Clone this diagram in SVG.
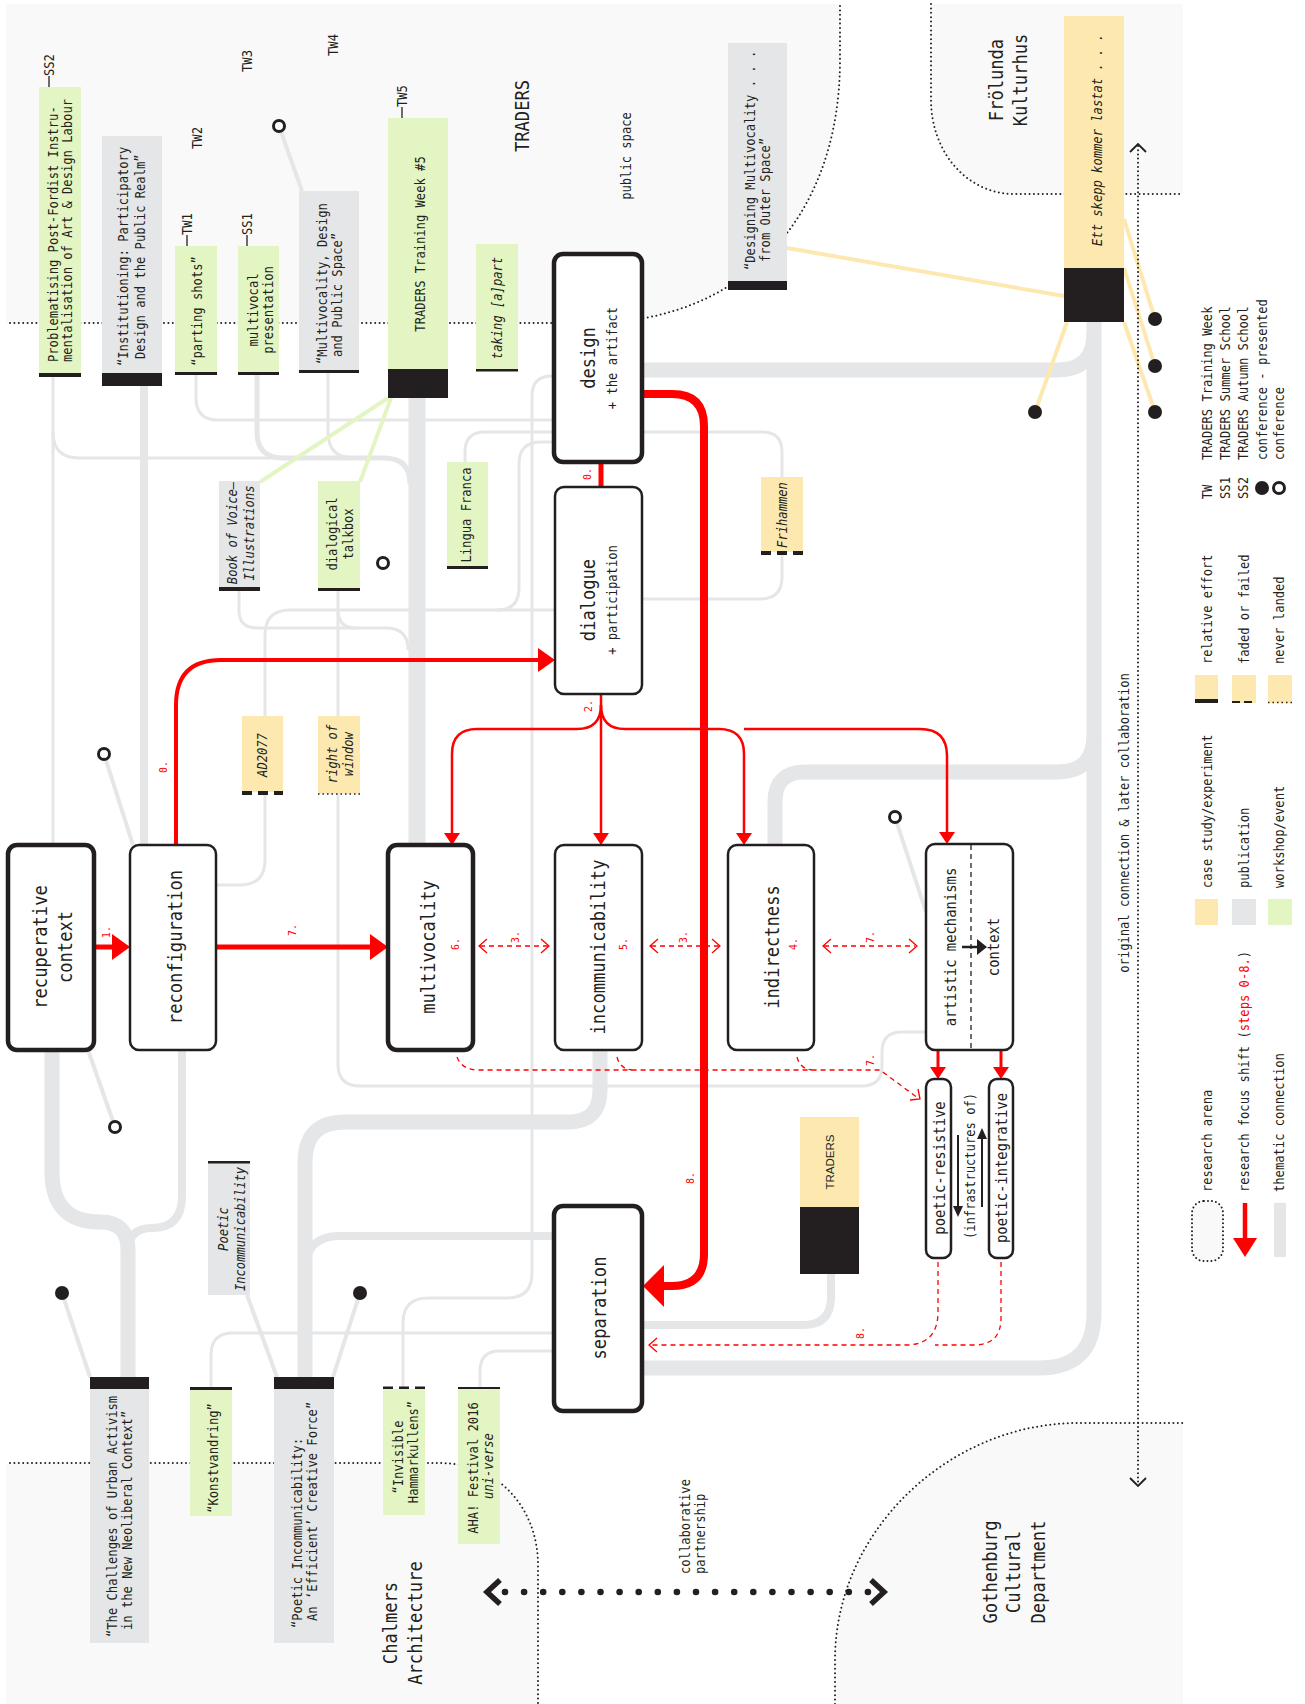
<svg xmlns="http://www.w3.org/2000/svg" width="1305" height="1704" viewBox="0 0 1305 1704">
<style>
text{font-family:"DejaVu Sans Mono","Liberation Mono",monospace;font-size:13.5px;fill:#231f20;text-anchor:middle;dominant-baseline:central}
.a{text-anchor:start}
.L{font-size:19px}
.M{font-size:15.4px}
.i{font-style:italic}
.n{font-size:11px;fill:#ff0000}
.red{fill:#ff0000}
.sans{font-family:"Liberation Sans",Arial,sans-serif;font-size:11.5px}
.rg{fill:#f9f9f9}
.bd{fill:none;stroke:#231f20;stroke-width:2;stroke-linecap:round;stroke-dasharray:0 4.4}
.gy{fill:#e5e6e8}.gr{fill:#e3f5c2}.yw{fill:#fde9b0}.bk{fill:#231f20}
.th{fill:none;stroke:#e5e6e8}
.w17{stroke-width:17}.w15{stroke-width:15}.w8{stroke-width:8}.w5{stroke-width:5}.w4{stroke-width:4}.w3{stroke-width:3}
.gl{stroke:#e3f5c2;stroke-width:4;fill:none}
.yl{stroke:#fde9b0;stroke-width:4;fill:none}
.rl{fill:none;stroke:#ff0000}
.rh{fill:#ff0000}
.rd{fill:none;stroke:#ff0000;stroke-width:1.3;stroke-dasharray:5 4}
.rc{fill:none;stroke:#ff0000;stroke-width:1.3}
.nb{fill:#fff;stroke:#231f20;stroke-width:2.5}
.nk{fill:#fff;stroke:#231f20;stroke-width:4.5}
.dash{stroke:#231f20;stroke-width:4;stroke-dasharray:10 6}
.dotb{stroke:#231f20;stroke-width:1.5;stroke-dasharray:1.5 3}
.dotc{fill:#231f20}
.opc{fill:#fff;stroke:#231f20;stroke-width:3}
.tk{stroke:#231f20;stroke-width:1.3}
</style>

<!-- research arenas -->
<g id="arenas">
  <path class="rg" d="M6 4 H840 V60 C840 220 740 323 590 323 H6 Z"/>
  <path class="bd" d="M10 323 H590 C740 323 840 220 840 60 V4"/>
  <path class="rg" d="M931 4 V100 C931 150 965 194 1015 194 H1183 V4 Z"/>
  <path class="bd" d="M931 4 V100 C931 150 965 194 1015 194 H1183"/>
  <path class="rg" d="M6 1463 H440 C500 1463 538 1510 538 1565 V1704 H6 Z"/>
  <path class="bd" d="M10 1463 H440 C500 1463 538 1510 538 1565 V1704"/>
  <path class="rg" d="M835 1704 V1660 C835 1530 950 1423 1078 1423 H1183 V1704 Z"/>
  <path class="bd" d="M835 1704 V1660 C835 1530 950 1423 1078 1423 H1183"/>
  <text class="L" transform="matrix(0 -.9 1 0 522 116)">TRADERS</text>
  <text transform="matrix(0 -.9 1 0 626 156)">public space</text>
  <text class="L" transform="matrix(0 -.9 1 0 996 80)">Frölunda</text>
  <text class="L" transform="matrix(0 -.9 1 0 1020 80)">Kulturhus</text>
  <text class="L" transform="matrix(0 -.9 1 0 390 1623)">Chalmers</text>
  <text class="L" transform="matrix(0 -.9 1 0 415 1623)">Architecture</text>
  <text class="L" transform="matrix(0 -.9 1 0 990 1572)">Gothenburg</text>
  <text class="L" transform="matrix(0 -.9 1 0 1013 1572)">Cultural</text>
  <text class="L" transform="matrix(0 -.9 1 0 1038 1572)">Department</text>
</g>

<g id="connectors">
  <!-- thematic connections -->
  <path class="th w15" d="M1094 322 V1313 Q1094 1368 1039 1368 H642"/>
  <path class="th w15" d="M642 370 H1057 Q1094 370 1094 333"/>
  <path class="th w15" d="M775 844 V802 Q775 772 805 772 H1057 Q1094 772 1094 735"/>
  <path class="th w17" d="M417 398 V845"/>
  <path class="th w15" d="M600 1050 V1090 Q600 1122 568 1122 H345 Q305 1122 305 1162 V1377"/>
  <path class="th w8" d="M554 1236 H340 Q305 1236 305 1271"/>
  <path class="th w15" d="M52 1050 V1172 Q52 1222 100 1222 Q128 1222 128 1250 V1377"/>
  <path class="th w8" d="M182 1050 V1196 Q182 1228 152 1228 Q128 1228 128 1252"/>
  <path class="th w8" d="M831 1274 V1297 Q831 1325 803 1325 H642"/>
  <path class="th w8" d="M144 386 V845"/>
  <path class="th w5" d="M257 375 V432 Q257 458 283 458 H384 Q410 458 410 484"/>
  <path class="th w3" d="M328 373 V432 Q328 458 354 458"/>
  <path class="th w3" d="M53 377 V845"/>
  <path class="th w3" d="M53 432 Q53 458 79 458 H283"/>
  <path class="th w3" d="M196 375 V398 Q196 420 218 420 H554"/>
  <path class="th w3" d="M465 462 V452 Q465 432 485 432 H762 Q782 432 782 452 V477"/>
  <path class="th w3" d="M782 554 V577 Q782 599 760 599 H642"/>
  <path class="th w3" d="M554 442 H541 Q519 442 519 464 V588 Q519 610 497 610"/>
  <path class="th w3" d="M555 610 H290 Q265 610 265 635 V860 Q265 885 240 885 H216"/>
  <path class="th w3" d="M239 591 V610 Q239 628 257 628 H386 Q408 628 408 650"/>
  <path class="th w3" d="M338 591 V1064 Q338 1086 360 1086 H862 Q882 1086 882 1066 V1052 Q882 1032 902 1032 H926"/>
  <path class="th w3" d="M338 610 Q338 628 356 628"/>
  <path class="th w3" d="M554 376 H552 Q532 376 532 396 V1273 Q532 1298 507 1298 H428 Q403 1298 403 1323 V1387"/>
  <path class="th w3" d="M211 1387 V1355 Q211 1333 233 1333 H554"/>
  <path class="th w3" d="M480 1387 V1371 Q480 1351 500 1351 H554"/>
  <path class="th w4" d="M247 1295 L277 1377"/>
  <path class="th w4" d="M104 754 L133 845"/>
  <path class="th w4" d="M88 1050 L115 1127"/>
  <path class="th w4" d="M279 126 L302 191"/>
  <path class="th w4" d="M895 817 L926 912"/>
  <path class="th w4" d="M62 1293 L90 1377"/>
  <path class="th w4" d="M360 1293 L333 1377"/>
  <!-- workshop links -->
  <path class="gl" d="M388 398 L260 482"/>
  <path class="gl" d="M391 398 L360 482"/>
  <!-- case study links -->
  <path class="yl" d="M1064 296 L787 248"/>
  <path class="yl" d="M1067 322 L1035 412"/>
  <path class="yl" d="M1124 219 L1155 319"/>
  <path class="yl" d="M1124 268 L1155 366"/>
  <path class="yl" d="M1124 322 L1155 412"/>
  <!-- research focus shift -->
  <path class="rl" stroke-width="5" d="M94 947 H114"/>
  <polygon class="rh" points="112,934 130,947 112,960"/>
  <path class="rl" stroke-width="5" d="M216 947 H372"/>
  <polygon class="rh" points="370,934 388,947 370,960"/>
  <path class="rl" stroke-width="4" d="M176 845 V705 Q176 660 221 660 H540"/>
  <polygon class="rh" points="538,648 555,660 538,672"/>
  <path class="rl" stroke-width="5" d="M601 462 V487"/>
  <path class="rl" stroke-width="8" d="M642 394 H672 Q704 394 704 426 V1254 Q704 1286 672 1286 H662"/>
  <polygon class="rh" points="664,1265 643,1286 664,1307"/>
  <path class="rl" stroke-width="2.5" d="M601 694 V835"/>
  <polygon class="rh" points="593,833 601,845 609,833"/>
  <path class="rl" stroke-width="2.5" d="M601 705 Q601 729 577 729 H477 Q452 729 452 754 V835"/>
  <polygon class="rh" points="444,833 452,845 460,833"/>
  <path class="rl" stroke-width="2.5" d="M601 705 Q601 729 625 729 H719 Q744 729 744 754 V835"/>
  <polygon class="rh" points="736,833 744,845 752,833"/>
  <path class="rl" stroke-width="2.5" d="M744 729 H920 Q947 729 947 756 V834"/>
  <polygon class="rh" points="939,832 947,844 955,832"/>
  <path class="rl" stroke-width="3" d="M938 1050 V1069"/>
  <polygon class="rh" points="930,1067 938,1079 946,1067"/>
  <path class="rl" stroke-width="3" d="M1001 1050 V1069"/>
  <polygon class="rh" points="993,1067 1001,1079 1009,1067"/>
  <!-- dashed relations -->
  <path class="rd" d="M480 946 H548"/>
  <polyline class="rc" points="487,939 479,946 487,953"/>
  <polyline class="rc" points="541,939 549,946 541,953"/>
  <path class="rd" d="M651 946 H719"/>
  <polyline class="rc" points="658,939 650,946 658,953"/>
  <polyline class="rc" points="712,939 720,946 712,953"/>
  <path class="rd" d="M824 946 H915"/>
  <polyline class="rc" points="831,939 823,946 831,953"/>
  <polyline class="rc" points="909,939 917,946 909,953"/>
  <path class="rd" d="M457 1057 Q462 1070 478 1070 H880 L918 1098"/>
  <path class="rd" d="M617 1057 Q620 1069 632 1070"/>
  <path class="rd" d="M797 1057 Q800 1069 812 1070"/>
  <polyline class="rc" points="910,1100 920,1099 918,1089"/>
  <path class="rd" d="M938 1262 V1312 Q938 1345 905 1345 H650"/>
  <path class="rd" d="M1001 1262 V1318 Q1001 1345 974 1345 H935"/>
  <polyline class="rc" points="657,1338 649,1345 657,1352"/>
  <!-- step numbers -->
  <text class="n" transform="matrix(0 -.9 1 0 106 932)">1.</text>
  <text class="n" transform="matrix(0 -.9 1 0 292 930)">7.</text>
  <text class="n" transform="matrix(0 -.9 1 0 163 767)">0.</text>
  <text class="n" transform="matrix(0 -.9 1 0 587 474)">0.</text>
  <text class="n" transform="matrix(0 -.9 1 0 588 706)">2.</text>
  <text class="n" transform="matrix(0 -.9 1 0 515 937)">3.</text>
  <text class="n" transform="matrix(0 -.9 1 0 683 937)">3.</text>
  <text class="n" transform="matrix(0 -.9 1 0 870 937)">7.</text>
  <text class="n" transform="matrix(0 -.9 1 0 870 1060)">7.</text>
  <text class="n" transform="matrix(0 -.9 1 0 690 1178)">8.</text>
  <text class="n" transform="matrix(0 -.9 1 0 860 1333)">8.</text>
  <!-- collaboration lines -->
  <path fill="none" stroke="#231f20" stroke-width="2" stroke-linecap="round" stroke-dasharray="0 4.2" d="M1138 146 V1484"/>
  <polyline fill="none" stroke="#231f20" stroke-width="1.8" points="1130,152 1138,144 1146,152"/>
  <polyline fill="none" stroke="#231f20" stroke-width="1.8" points="1130,1478 1138,1486 1146,1478"/>
  <text transform="matrix(0 -.9 1 0 1124 823)">original connection &amp; later collaboration</text>
  <path fill="none" stroke="#231f20" stroke-width="6.6" stroke-linecap="round" stroke-dasharray="0 19.1" d="M505 1592 H870"/>
  <polyline fill="none" stroke="#231f20" stroke-width="5.5" points="500,1580 487,1592 500,1604"/>
  <polyline fill="none" stroke="#231f20" stroke-width="5.5" points="871,1580 884,1592 871,1604"/>
  <text class="a" transform="matrix(0 -.9 1 0 685 1574)">collaborative</text>
  <text class="a" transform="matrix(0 -.9 1 0 700 1574)">partnership</text>
</g>

<!-- conference dots -->
<g id="conferences">
  <circle class="opc" cx="279" cy="126" r="5.5"/>
  <circle class="opc" cx="104" cy="754" r="5.5"/>
  <circle class="opc" cx="115" cy="1127" r="5.5"/>
  <circle class="opc" cx="383" cy="563" r="5.5"/>
  <circle class="opc" cx="895" cy="817" r="5.5"/>
  <circle class="dotc" cx="62" cy="1293" r="7"/>
  <circle class="dotc" cx="360" cy="1293" r="7"/>
  <circle class="dotc" cx="1035" cy="412" r="7"/>
  <circle class="dotc" cx="1155" cy="319" r="7"/>
  <circle class="dotc" cx="1155" cy="366" r="7"/>
  <circle class="dotc" cx="1155" cy="412" r="7"/>
</g>

<!-- top labels -->
<g id="event-labels">
  <line class="tk" x1="49" y1="87" x2="49" y2="76"/>
  <text class="a" transform="matrix(0 -.9 1 0 49 76)">SS2</text>
  <text transform="matrix(0 -.9 1 0 197 138)">TW2</text>
  <text transform="matrix(0 -.9 1 0 247 61)">TW3</text>
  <text transform="matrix(0 -.9 1 0 333 45)">TW4</text>
  <line class="tk" x1="187" y1="246" x2="187" y2="235"/>
  <text class="a" transform="matrix(0 -.9 1 0 187 235)">TW1</text>
  <line class="tk" x1="247" y1="246" x2="247" y2="235"/>
  <text class="a" transform="matrix(0 -.9 1 0 247 235)">SS1</text>
  <line class="tk" x1="402" y1="118" x2="402" y2="107"/>
  <text class="a" transform="matrix(0 -.9 1 0 402 107)">TW5</text>
</g>

<g id="problematising">
  <rect class="gr" x="39" y="87" width="42" height="286"/>
  <rect class="bk" x="39" y="373" width="42" height="4"/>
  <text class="a" transform="matrix(0 -.9 1 0 53 362)">Problematising Post-Fordist Instru-</text>
  <text class="a" transform="matrix(0 -.9 1 0 67 362)">mentalisation of Art &amp; Design Labour</text>
</g>
<g id="institutioning">
  <rect class="gy" x="102" y="136" width="60" height="237"/>
  <rect class="bk" x="102" y="373" width="60" height="13"/>
  <text class="a" transform="matrix(0 -.9 1 0 123 366)">“Institutioning: Participatory</text>
  <text class="a" transform="matrix(0 -.9 1 0 140 359)">Design and the Public Realm”</text>
</g>
<g id="parting-shots">
  <rect class="gr" x="175" y="246" width="42" height="126"/>
  <rect class="bk" x="175" y="372" width="42" height="3"/>
  <text transform="matrix(0 -.9 1 0 197 311)">“parting shots”</text>
</g>
<g id="multivocal-presentation">
  <rect class="gr" x="238" y="246" width="41" height="126"/>
  <rect class="bk" x="238" y="372" width="41" height="3"/>
  <text transform="matrix(0 -.9 1 0 253 310)">multivocal</text>
  <text transform="matrix(0 -.9 1 0 268 310)">presentation</text>
</g>
<g id="multivocality-design">
  <rect class="gy" x="299" y="191" width="60" height="179"/>
  <rect class="bk" x="299" y="370" width="60" height="3"/>
  <text class="a" transform="matrix(0 -.9 1 0 322 364)">“Multivocality, Design</text>
  <text class="a" transform="matrix(0 -.9 1 0 337 357)">and Public Space”</text>
</g>
<g id="tw5">
  <rect class="gr" x="388" y="118" width="60" height="251"/>
  <rect class="bk" x="388" y="369" width="60" height="29"/>
  <text transform="matrix(0 -.9 1 0 420 244)">TRADERS Training Week #5</text>
</g>
<g id="taking-apart">
  <rect class="gr" x="476" y="244" width="42" height="125"/>
  <rect class="bk" x="476" y="369" width="42" height="2.5"/>
  <text class="i" transform="matrix(0 -.9 1 0 497 308)">taking [a]part</text>
</g>
<g id="designing-multivocality">
  <rect class="gy" x="728" y="43" width="59" height="238"/>
  <rect class="bk" x="728" y="281" width="59" height="9"/>
  <text class="a" transform="matrix(0 -.9 1 0 750 270)">“Designing Multivocality . . .</text>
  <text class="a" transform="matrix(0 -.9 1 0 765 262)">from Outer Space”</text>
</g>
<g id="ett-skepp">
  <rect class="yw" x="1064" y="16" width="60" height="252"/>
  <rect class="bk" x="1064" y="268" width="60" height="54"/>
  <text class="i" transform="matrix(0 -.9 1 0 1097 140)">Ett skepp kommer lastat . . .</text>
</g>
<g id="book-of-voice">
  <rect class="gy" x="219" y="481" width="41" height="106"/>
  <rect class="bk" x="219" y="587" width="41" height="4"/>
  <text class="i" transform="matrix(0 -.9 1 0 232 533)">Book of Voice–</text>
  <text class="i" transform="matrix(0 -.9 1 0 249 533)">Illustrations</text>
</g>
<g id="dialogical-talkbox">
  <rect class="gr" x="318" y="481" width="42" height="107"/>
  <rect class="bk" x="318" y="588" width="42" height="3"/>
  <text transform="matrix(0 -.9 1 0 332 534)">dialogical</text>
  <text transform="matrix(0 -.9 1 0 348 534)">talkbox</text>
</g>
<g id="lingua-franca">
  <rect class="gr" x="447" y="462" width="41" height="104"/>
  <rect class="bk" x="447" y="566" width="41" height="3"/>
  <text transform="matrix(0 -.9 1 0 466 515)">Lingua Franca</text>
</g>
<g id="frihammen">
  <rect class="yw" x="761" y="477" width="42" height="75"/>
  <line class="dash" x1="761" y1="553" x2="803" y2="553"/>
  <text class="i" transform="matrix(0 -.9 1 0 782 515)">Frihammen</text>
</g>
<g id="ad2077">
  <rect class="yw" x="242" y="716" width="41" height="76"/>
  <line class="dash" x1="242" y1="793" x2="283" y2="793"/>
  <text class="i" transform="matrix(0 -.9 1 0 262 755)">AD2077</text>
</g>
<g id="right-of-window">
  <rect class="yw" x="318" y="716" width="42" height="78"/>
  <line class="dotb" x1="318" y1="794" x2="360" y2="794"/>
  <text class="i" transform="matrix(0 -.9 1 0 332 754)">right of</text>
  <text class="i" transform="matrix(0 -.9 1 0 348 754)">window</text>
</g>
<g id="poetic-incommunicability-book">
  <rect class="gy" x="208" y="1161" width="42" height="134"/>
  <rect class="bk" x="208" y="1161" width="42" height="2.5"/>
  <text class="i" transform="matrix(0 -.9 1 0 223 1229)">Poetic</text>
  <text class="i" transform="matrix(0 -.9 1 0 240 1229)">Incommunicability</text>
</g>
<g id="challenges">
  <rect class="bk" x="90" y="1377" width="59" height="12"/>
  <rect class="gy" x="90" y="1389" width="59" height="254"/>
  <text class="a" transform="matrix(0 -.9 1 0 112 1637)">“The Challenges of Urban Activism</text>
  <text class="a" transform="matrix(0 -.9 1 0 127 1630)">in the New Neoliberal Context”</text>
</g>
<g id="konstvandring">
  <rect class="bk" x="190" y="1387" width="42" height="3"/>
  <rect class="gr" x="190" y="1390" width="42" height="126"/>
  <text transform="matrix(0 -.9 1 0 213 1458)">“Konstvandring”</text>
</g>
<g id="poetic-incommunicability-paper">
  <rect class="bk" x="274" y="1377" width="60" height="12"/>
  <rect class="gy" x="274" y="1389" width="60" height="254"/>
  <text class="a" transform="matrix(0 -.9 1 0 297 1628)">“Poetic Incommunicability:</text>
  <text class="a" transform="matrix(0 -.9 1 0 312 1621)">An ‘Efficient’ Creative Force”</text>
</g>
<g id="invisible-hammarkullens">
  <line class="dash" x1="383" y1="1388" x2="425" y2="1388" style="stroke-width:3"/>
  <rect class="gr" x="383" y="1389" width="42" height="126"/>
  <text transform="matrix(0 -.9 1 0 398 1457)">“Invisible</text>
  <text transform="matrix(0 -.9 1 0 413 1452)">Hammarkullens”</text>
</g>
<g id="aha-festival">
  <rect class="bk" x="458" y="1387" width="42" height="2.5"/>
  <rect class="gr" x="458" y="1389" width="42" height="155"/>
  <text transform="matrix(0 -.9 1 0 473 1468)">AHA! Festival 2016</text>
  <text class="i" transform="matrix(0 -.9 1 0 488 1466)">uni-verse</text>
</g>
<g id="traders-small">
  <rect class="yw" x="800" y="1117" width="59" height="90"/>
  <rect class="bk" x="800" y="1207" width="59" height="67"/>
  <text class="sans" transform="matrix(0 -1 1 0 830 1162)">TRADERS</text>
</g>

<!-- main concept nodes -->
<g id="recuperative-context">
  <rect class="nk" x="8" y="845" width="86" height="205" rx="9"/>
  <text class="L" transform="matrix(0 -.9 1 0 40 947)">recuperative</text>
  <text class="L" transform="matrix(0 -.9 1 0 65 947)">context</text>
</g>
<g id="reconfiguration">
  <rect class="nb" x="130" y="845" width="86" height="205" rx="9"/>
  <text class="L" transform="matrix(0 -.9 1 0 175 947)">reconfiguration</text>
</g>
<g id="multivocality">
  <rect class="nk" x="388" y="845" width="85" height="205" rx="9"/>
  <text class="L" transform="matrix(0 -.9 1 0 428 947)">multivocality</text>
  <text class="n" transform="matrix(0 -.9 1 0 455 944)">6.</text>
</g>
<g id="incommunicability">
  <rect class="nb" x="555" y="845" width="87" height="205" rx="9"/>
  <text class="L" transform="matrix(0 -.9 1 0 598 947)">incommunicability</text>
  <text class="n" transform="matrix(0 -.9 1 0 623 944)">5.</text>
</g>
<g id="indirectness">
  <rect class="nb" x="728" y="845" width="86" height="205" rx="9"/>
  <text class="L" transform="matrix(0 -.9 1 0 772 947)">indirectness</text>
  <text class="n" transform="matrix(0 -.9 1 0 793 944)">4.</text>
</g>
<g id="artistic-mechanisms">
  <rect class="nb" x="926" y="844" width="87" height="206" rx="9"/>
  <line x1="971" y1="845" x2="971" y2="1049" stroke="#231f20" stroke-width="1.3" stroke-dasharray="5 4"/>
  <text class="M" transform="matrix(0 -.9 1 0 950 947)">artistic mechanisms</text>
  <text class="M" transform="matrix(0 -.9 1 0 993 947)">context</text>
  <line x1="962" y1="947" x2="979" y2="947" stroke="#231f20" stroke-width="2.5"/>
  <polygon class="bk" points="977,939 987,947 977,955"/>
</g>
<g id="design">
  <rect class="nk" x="554" y="254" width="88" height="208" rx="9"/>
  <text class="L" transform="matrix(0 -.9 1 0 588 358)">design</text>
  <text transform="matrix(0 -.9 1 0 612 358)">+ the artifact</text>
</g>
<g id="dialogue">
  <rect class="nb" x="555" y="487" width="87" height="207" rx="9"/>
  <text class="L" transform="matrix(0 -.9 1 0 588 600)">dialogue</text>
  <text transform="matrix(0 -.9 1 0 612 600)">+ participation</text>
</g>
<g id="separation">
  <rect class="nk" x="554" y="1206" width="88" height="205" rx="9"/>
  <text class="L" transform="matrix(0 -.9 1 0 599 1308)">separation</text>
</g>
<g id="poetic-resistive">
  <rect class="nb" x="926" y="1079" width="25" height="179" rx="8"/>
  <text class="M" transform="matrix(0 -.9 1 0 939 1168)">poetic-resistive</text>
</g>
<g id="poetic-integrative">
  <rect class="nb" x="989" y="1079" width="24" height="179" rx="8"/>
  <text class="M" transform="matrix(0 -.9 1 0 1001 1168)">poetic-integrative</text>
</g>
<g id="infrastructures">
  <text transform="matrix(0 -.9 1 0 970 1166)">(infrastructures of)</text>
  <line x1="958" y1="1135" x2="958" y2="1208" stroke="#231f20" stroke-width="2"/>
  <polygon class="bk" points="953,1206 958,1217 963,1206"/>
  <line x1="982" y1="1207" x2="982" y2="1138" stroke="#231f20" stroke-width="2"/>
  <polygon class="bk" points="977,1139 982,1128 987,1139"/>
</g>

<!-- legend -->
<g id="legend">
  <text class="a" transform="matrix(0 -.9 1 0 1207 460)">TRADERS Training Week</text>
  <text class="a" transform="matrix(0 -.9 1 0 1225 460)">TRADERS Summer School</text>
  <text class="a" transform="matrix(0 -.9 1 0 1243 460)">TRADERS Autumn School</text>
  <text class="a" transform="matrix(0 -.9 1 0 1262 460)">conference - presented</text>
  <text class="a" transform="matrix(0 -.9 1 0 1279 460)">conference</text>
  <text transform="matrix(0 -.9 1 0 1207 492)">TW</text>
  <text transform="matrix(0 -.9 1 0 1225 488)">SS1</text>
  <text transform="matrix(0 -.9 1 0 1243 488)">SS2</text>
  <circle class="dotc" cx="1262" cy="488" r="7"/>
  <circle class="opc" cx="1279" cy="488" r="5.5"/>

  <text class="a" transform="matrix(0 -.9 1 0 1207 664)">relative effort</text>
  <text class="a" transform="matrix(0 -.9 1 0 1244 664)">faded or failed</text>
  <text class="a" transform="matrix(0 -.9 1 0 1279 664)">never landed</text>
  <rect class="yw" x="1195" y="675" width="23" height="28"/>
  <rect class="bk" x="1195" y="699" width="23" height="4"/>
  <rect class="yw" x="1232" y="675" width="24" height="28"/>
  <line x1="1232" y1="702" x2="1256" y2="702" stroke="#231f20" stroke-width="2" stroke-dasharray="8 4"/>
  <rect class="yw" x="1268" y="675" width="24" height="28"/>
  <line class="dotb" x1="1268" y1="702.5" x2="1292" y2="702.5"/>

  <text class="a" transform="matrix(0 -.9 1 0 1207 888)">case study/experiment</text>
  <text class="a" transform="matrix(0 -.9 1 0 1244 888)">publication</text>
  <text class="a" transform="matrix(0 -.9 1 0 1279 888)">workshop/event</text>
  <rect class="yw" x="1195" y="899" width="23" height="26"/>
  <rect class="gy" x="1232" y="899" width="24" height="26"/>
  <rect class="gr" x="1268" y="899" width="24" height="26"/>

  <text class="a" transform="matrix(0 -.9 1 0 1207 1192)">research arena</text>
  <text class="a" transform="matrix(0 -.9 1 0 1244 1192)">research focus shift (<tspan class="red">steps 0-8.</tspan>)</text>
  <text class="a" transform="matrix(0 -.9 1 0 1279 1192)">thematic connection</text>
  <rect x="1192" y="1201" width="31" height="60" rx="12" fill="#f9f9f9" stroke="#231f20" stroke-width="2" stroke-linecap="round" stroke-dasharray="0 4"/>
  <line x1="1245" y1="1203" x2="1245" y2="1240" stroke="#ff0000" stroke-width="4.5"/>
  <polygon class="rh" points="1233,1238 1245,1257 1257,1238"/>
  <rect class="gy" x="1274" y="1203" width="12" height="54"/>
</g>
</svg>
